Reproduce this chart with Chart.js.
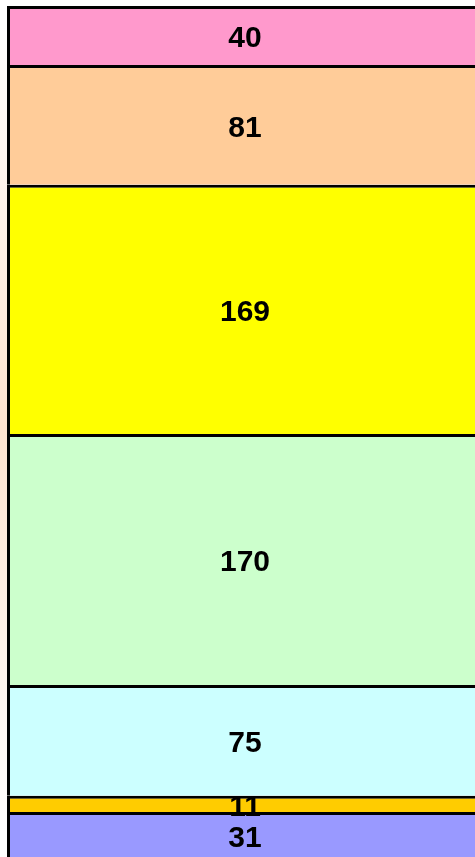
<!DOCTYPE html>
<html>
<head>
<meta charset="utf-8">
<script src="https://cdn.jsdelivr.net/npm/chart.js@4/dist/chart.umd.min.js"></script>
<style>
    html, body { margin: 0; padding: 0; background: #fff; overflow: hidden; }
    #wrap {
        position: relative; width: 475px; height: 857px; overflow: hidden;
        background: linear-gradient(to bottom, #fff 3%, #ffe3d0 50%, #fff 97%) no-repeat 0 0 / 7px 100%;
    }
    #grafico { position: absolute; left: 0; top: 0; }
</style>
</head>
<body>
<div id="wrap"><canvas id="grafico" width="490" height="857"></canvas></div>
<script>
// segmentos de baixo para cima
const categorias = [""];
const valores = [31, 11, 75, 170, 169, 81, 40];
const cores = ["#9999ff", "#ffcc00", "#ccffff", "#ccffcc", "#ffff00", "#ffcc99", "#ff99cc"];

// escreve o valor no meio de cada segmento
const rotulos = {
    id: 'rotulos',
    afterDatasetsDraw(chart) {
        const ctx = chart.ctx;
        const tam = 30;
        ctx.save();
        ctx.font = "bold " + tam + "px 'Liberation Sans', Arial, sans-serif";
        ctx.fillStyle = "#000";
        ctx.textAlign = "center";
        ctx.textBaseline = "alphabetic";
        chart.data.datasets.forEach((ds, i) => {
            const bar = chart.getDatasetMeta(i).data[0];
            const meio = (bar.y + bar.base) / 2;
            ctx.fillText(String(ds.data[0]), bar.x, meio + tam * 0.358 + 1);
        });
        ctx.restore();
    }
};

window.onload = () => {
    const ctx = document.getElementById('grafico').getContext('2d');

    new Chart(ctx, {
        type: 'bar',
        data: {
            labels: categorias,
            datasets: valores.map((v, i) => ({
                label: "s" + i,
                data: [v],
                backgroundColor: cores[i],
                borderColor: "#000",
                borderWidth: { top: 3, left: 3, right: 0, bottom: 0 },
                borderSkipped: false,
                barPercentage: 476 / 490,
                categoryPercentage: 1
            }))
        },
        options: {
            responsive: false,
            animation: false,
            layout: { padding: 0 },
            scales: {
                x: { stacked: true, display: false },
                y: { stacked: true, display: false, min: 0.5, max: 581.1 }
            },
            plugins: {
                legend: { display: false },
                tooltip: { enabled: false }
            }
        },
        plugins: [rotulos]
    });
};
</script>
</body>
</html>
